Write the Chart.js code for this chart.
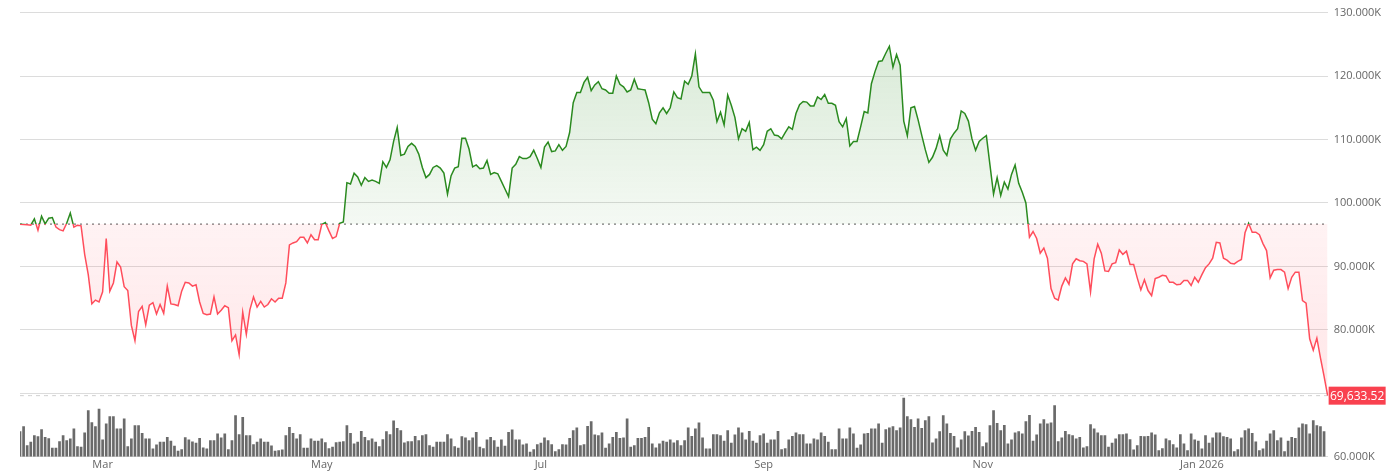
<!DOCTYPE html>
<html>
<head>
<meta charset="utf-8">
<script src="https://cdn.jsdelivr.net/npm/chart.js@4.4.1/dist/chart.umd.min.js"></script>
<style>
  html, body { margin: 0; padding: 0; background: #fff; }
  #wrap { width: 1390px; height: 472px; position: relative; }
</style>
</head>
<body>
<div id="wrap"><canvas id="chart"></canvas></div>
<script>
// daily closes, in thousands, from 2025-02-06 to 2026-02-05
const startDate = '2025-02-06';
const baseline = 96.67;
const prices = [
  96.65, 96.6, 96.55, 96.5, 97.5, 95.7, 97.9, 96.7, 97.6, 97.7,
  96.2, 95.8, 95.6, 96.8, 98.4, 96.2, 96.5, 96.4, 91.9, 88.7,
  84.1, 84.7, 84.4, 86.0, 94.4, 86.1, 87.4, 90.7, 89.9, 86.8,
  86.2, 80.7, 78.3, 82.9, 83.7, 80.8, 83.9, 84.3, 82.5, 84.0,
  82.6, 86.9, 84.1, 84.0, 83.8, 86.1, 87.5, 87.4, 86.9, 87.1,
  84.4, 82.6, 82.4, 82.5, 85.2, 82.5, 83.1, 83.8, 83.5, 78.3,
  79.2, 76.1, 82.8, 79.3, 83.2, 85.2, 83.6, 84.5, 83.6, 84.0,
  84.9, 84.4, 85.0, 85.0, 87.4, 93.4, 93.7, 93.9, 94.6, 94.6,
  93.7, 95.0, 94.2, 94.2, 96.6, 96.9, 95.6, 94.4, 94.7, 96.8,
  97.0, 103.2, 103.0, 104.7, 104.1, 102.8, 104.0, 103.4, 103.6, 103.4,
  103.1, 106.5, 105.6, 106.8, 109.7, 111.9, 107.5, 107.7, 108.9, 109.4,
  108.9, 107.7, 105.6, 104.0, 104.5, 105.6, 105.9, 105.5, 104.7, 101.4,
  104.3, 105.5, 105.7, 110.2, 110.2, 108.5, 105.7, 106.0, 105.4, 105.5,
  106.7, 104.5, 104.8, 104.6, 103.4, 102.2, 101.0, 105.5, 106.1, 107.3,
  107.0, 107.0, 107.3, 108.3, 107.0, 105.6, 108.8, 109.6, 108.1, 108.2,
  109.2, 108.3, 108.9, 111.1, 115.8, 117.4, 117.4, 119.0, 119.8, 117.7,
  118.6, 119.1, 118.0, 117.8, 117.3, 117.3, 120.0, 118.7, 118.3, 117.5,
  117.8, 119.5, 118.0, 117.9, 117.8, 115.8, 113.2, 112.5, 114.2, 115.0,
  114.1, 115.0, 117.5, 116.6, 116.4, 119.2, 118.7, 120.0, 123.5, 118.3,
  117.4, 117.4, 117.4, 116.2, 112.8, 114.3, 112.3, 117.0, 115.4, 113.5,
  110.1, 111.7, 111.3, 112.7, 108.4, 108.8, 108.3, 109.2, 111.3, 111.7,
  110.7, 110.6, 110.1, 111.1, 112.0, 111.6, 114.1, 115.5, 116.0, 115.9,
  115.3, 115.3, 116.7, 116.3, 117.1, 115.7, 115.7, 115.4, 112.8, 112.0,
  113.3, 109.0, 109.7, 109.7, 112.0, 114.4, 114.2, 118.8, 120.7, 122.3,
  122.4, 123.6, 124.7, 121.4, 123.4, 121.7, 112.9, 110.6, 115.0, 115.2,
  113.1, 110.7, 108.4, 106.4, 107.2, 108.6, 110.6, 108.3, 107.5, 110.1,
  111.0, 111.7, 114.5, 114.1, 112.9, 110.1, 108.3, 109.7, 110.2, 110.6,
  106.0, 101.4, 104.0, 101.2, 103.3, 102.2, 104.5, 106.0, 103.1, 101.7,
  100.0, 94.6, 95.5, 94.4, 92.1, 92.9, 91.3, 86.5, 85.0, 84.7,
  86.9, 88.2, 87.2, 90.4, 91.2, 90.9, 90.8, 90.4, 86.0, 91.2,
  93.5, 92.1, 89.3, 89.2, 90.4, 90.6, 92.6, 91.9, 92.4, 90.3,
  90.3, 88.2, 86.3, 87.9, 86.2, 85.4, 88.1, 88.3, 88.6, 88.5,
  87.5, 87.5, 87.1, 87.2, 87.8, 87.8, 87.0, 88.3, 87.5, 88.7,
  89.8, 90.4, 91.3, 93.8, 93.7, 91.3, 91.0, 90.5, 90.4, 90.8,
  91.1, 95.3, 96.8, 95.4, 95.4, 95.0, 93.6, 92.5, 88.2, 89.4,
  89.5, 89.5, 89.1, 86.5, 88.3, 89.1, 89.1, 84.6, 84.2, 78.6,
  76.8, 78.7, 75.6, 72.7, 69.63352
];
// traded volume, relative units
const volumes = [
  77, 92, 35, 45, 65, 62, 83, 60, 56, 27, 27, 47, 65, 50, 55, 85, 32, 30, 73, 140,
  104, 92, 145, 52, 100, 122, 122, 85, 85, 115, 32, 55, 95, 95, 72, 55, 55, 25, 37, 45,
  45, 60, 48, 33, 18, 23, 59, 52, 46, 42, 57, 28, 25, 50, 50, 70, 58, 70, 23, 50,
  125, 68, 120, 65, 65, 38, 45, 55, 45, 45, 34, 18, 20, 22, 65, 90, 72, 55, 68, 27,
  27, 55, 48, 48, 55, 44, 26, 30, 44, 45, 47, 95, 72, 40, 45, 78, 60, 50, 55, 45,
  32, 53, 77, 68, 109, 87, 80, 43, 47, 47, 63, 50, 65, 68, 35, 30, 45, 45, 45, 68,
  55, 32, 27,
  62, 58, 50, 58, 75, 30, 26, 52, 60, 50, 30, 52, 33, 75, 82, 52, 52, 37, 40, 15,
  23, 38, 42, 58, 50, 38, 17, 23, 38, 37, 57, 80, 88, 35, 38, 93, 107, 67, 65, 73,
  27, 40, 60, 75, 57, 58, 115, 30, 35, 57, 57, 60, 90, 40, 28, 40, 48, 45, 52, 43,
  50, 35, 50, 88, 63, 85, 103, 58, 25, 25, 68, 68, 65, 48, 80, 42, 67, 88, 73, 52,
  78, 48, 42, 65, 70, 42, 52, 52, 78, 23, 26, 52, 63, 73, 68, 68, 40, 40, 55, 52,
  73, 63, 45, 23, 23, 85, 55, 55, 88, 70, 27, 37, 70, 72, 85, 85, 100, 42, 83, 88,
  92, 80, 88, 178, 122, 113, 90, 115,
  87, 110, 122, 43, 55, 77, 125, 100, 72, 63, 28, 52, 77, 64, 78, 90, 75, 32, 43, 95,
  140, 102, 80, 96, 40, 52, 73, 77, 70, 107, 126, 48, 67, 100, 113, 100, 103, 155, 47, 58,
  78, 68, 65, 55, 60, 28, 32, 98, 85, 73, 65, 65, 30, 42, 55, 68, 68, 70, 53, 22,
  35, 63, 62, 63, 73, 67, 20, 26, 55, 50, 38, 28, 68, 40, 20, 70, 52, 48, 25, 65,
  42, 58, 73, 73, 62, 60, 55, 17, 23, 58, 80, 85, 72, 46, 20, 25, 48, 70, 80, 50,
  58, 17, 48, 60, 57, 88, 100, 98, 70, 110, 95, 92, 77
];
const monthTicks = {
  '2025-03-01': 'Mar', '2025-05-01': 'May', '2025-07-01': 'Jul',
  '2025-09-01': 'Sep', '2025-11-01': 'Nov', '2026-01-01': 'Jan 2026'
};

const labels = [];
const d0 = new Date(startDate + 'T00:00:00Z');
for (let i = 0; i < prices.length; i++) {
  const d = new Date(d0.getTime() + i * 86400000);
  labels.push(d.toISOString().slice(0, 10));
}
const lastPrice = prices[prices.length - 1];

const GREEN = '#2a8a1f';
const RED = '#ff4d5b';

function splitGradient(chart, above, below) {
  const { chartArea, scales } = chart;
  const g = chart.ctx.createLinearGradient(0, chartArea.top, 0, chartArea.bottom);
  let f = (scales.y.getPixelForValue(baseline) - chartArea.top) / (chartArea.bottom - chartArea.top);
  f = Math.min(Math.max(f, 0), 1);
  g.addColorStop(0, above[0]);
  g.addColorStop(f, above[1]);
  g.addColorStop(f, below[0]);
  g.addColorStop(1, below[1]);
  return g;
}

const lastLabel = {
  id: 'lastLabel',
  afterDraw(chart) {
    const { ctx, chartArea, scales } = chart;
    const y = scales.y.getPixelForValue(lastPrice);
    const txt = (lastPrice * 1000).toLocaleString('en-US', { minimumFractionDigits: 2, maximumFractionDigits: 2 });
    ctx.save();
    ctx.fillStyle = '#f9414f';
    ctx.fillRect(chartArea.right + 1, y - 9, 57, 18);
    ctx.fillStyle = '#fff';
    ctx.font = '12px "Open Sans"';
    ctx.textAlign = 'center';
    ctx.textBaseline = 'middle';
    ctx.fillText(txt, chartArea.right + 29.5, y + 0.5);
    ctx.restore();
  }
};

new Chart(document.getElementById('chart'), {
  data: {
    labels: labels,
    datasets: [
      {
        type: 'line',
        data: prices,
        borderWidth: 1.5,
        pointRadius: 0,
        tension: 0,
        borderColor: (c) => c.chart.chartArea ? splitGradient(c.chart, [GREEN, GREEN], [RED, RED]) : GREEN,
        backgroundColor: (c) => c.chart.chartArea ? splitGradient(c.chart,
          ['rgba(42,138,31,0.20)', 'rgba(42,138,31,0.05)'],
          ['rgba(255,77,91,0.07)', 'rgba(255,77,91,0.17)']) : 'transparent',
        fill: { target: { value: baseline } },
        yAxisID: 'y',
        order: 1
      },
      {
        type: 'line',
        data: labels.map(() => baseline),
        borderColor: '#555',
        borderWidth: 1,
        borderDash: [2, 4],
        pointRadius: 0,
        fill: false,
        yAxisID: 'y',
        order: 2
      },
      {
        type: 'line',
        data: labels.map(() => lastPrice),
        borderColor: '#cfcfcf',
        borderWidth: 1,
        borderDash: [4, 4],
        pointRadius: 0,
        fill: false,
        yAxisID: 'y',
        order: 3
      },
      {
        type: 'bar',
        data: volumes,
        backgroundColor: '#6a6a6a',
        barPercentage: 0.75,
        categoryPercentage: 1,
        yAxisID: 'yv',
        order: 4
      }
    ]
  },
  options: {
    responsive: true,
    maintainAspectRatio: false,
    animation: false,
    layout: { padding: { left: 20, top: 10, right: 3, bottom: 0 } },
    plugins: { legend: { display: false }, tooltip: { enabled: false } },
    scales: {
      x: {
        offset: false,
        grid: { display: false, drawTicks: false },
        border: { display: false },
        ticks: {
          autoSkip: false,
          maxRotation: 0,
          padding: 1,
          color: '#666',
          font: { family: 'Open Sans', size: 11 },
          callback: (v, i) => monthTicks[labels[i]] || null
        }
      },
      y: {
        position: 'right',
        min: 60,
        max: 130,
        grid: { color: '#dcdcdc', drawTicks: false },
        border: { display: false },
        ticks: {
          stepSize: 10,
          padding: 6,
          color: '#666',
          font: { family: 'Open Sans', size: 11 },
          callback: (v) => v.toFixed(3) + 'K'
        }
      },
      yv: {
        display: false,
        min: 0,
        max: 1338
      }
    }
  },
  plugins: [lastLabel]
});
</script>
</body>
</html>
